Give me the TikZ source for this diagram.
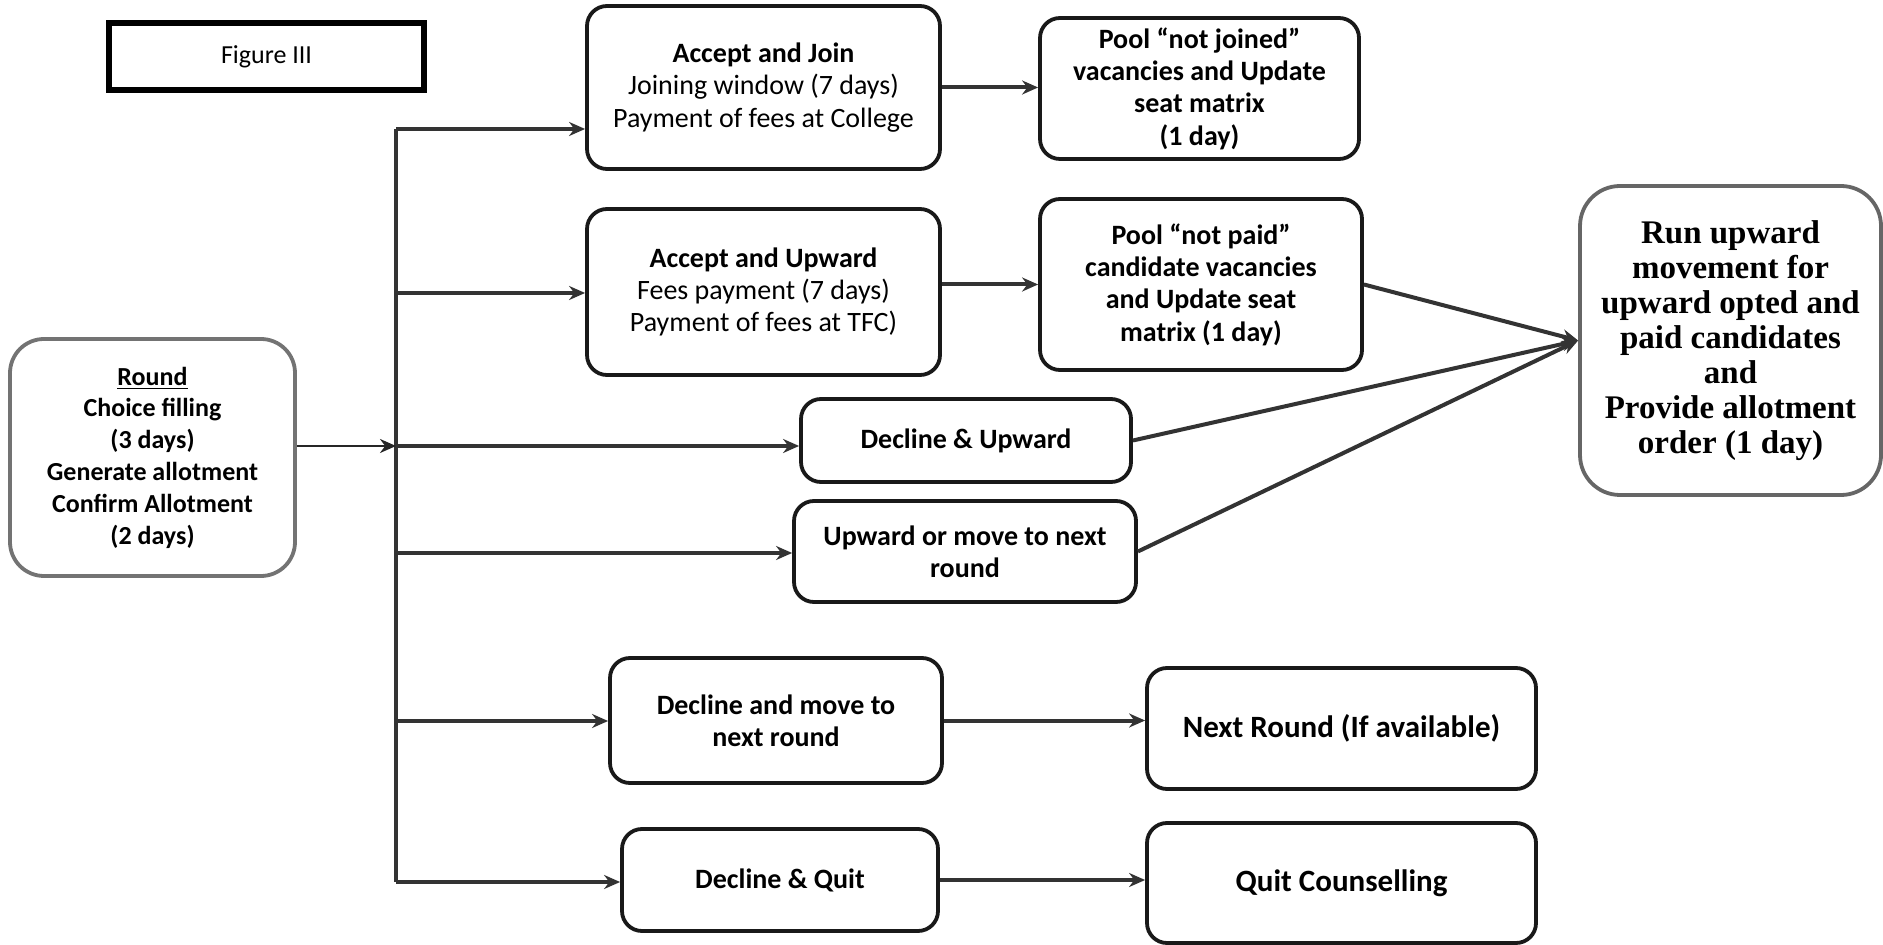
\documentclass[tikz,border=0pt]{standalone}
\usepackage{fontspec}
\setmainfont{Carlito}
\newfontfamily\tms{Liberation Serif}
\usetikzlibrary{arrows.meta}
\tikzset{
  box/.style={draw=black!90, line width=1.9pt, rounded corners=10pt, align=center, inner sep=0pt, font=\fontsize{14}{16.2}\selectfont},
  bbox/.style={box, font=\fontsize{14}{16.2}\selectfont\bfseries},
  conn/.style={line width=2pt, draw=black!80, -{Stealth[length=8pt,width=7pt]}},
  plain/.style={line width=2pt, draw=black!80},
}
\begin{document}
\begin{tikzpicture}[x=0.5pt,y=-0.5pt]
\useasboundingbox (0,0) rectangle (1883,945);
% boxes
\node[draw=black, line width=2.6pt, minimum width=157.5pt, minimum height=33.5pt, inner sep=0pt, font=\fontsize{13}{15}\selectfont] (fig) at (266.5,56.5) {Figure III};
\node[box, minimum width=176.5pt, minimum height=81.5pt] (aj) at (763.5,87.5) {\textbf{Accept and Join}\\Joining window (7 days)\\Payment of fees at College};
\node[bbox, minimum width=159.5pt, minimum height=70.5pt] (pj) at (1199.5,88.5) {Pool “not joined”\\vacancies and Update\\seat matrix\\(1 day)};
\node[box, minimum width=176.5pt, minimum height=83pt] (au) at (763.5,292) {\textbf{Accept and Upward}\\Fees payment (7 days)\\Payment of fees at TFC)};
\node[bbox, minimum width=161pt, minimum height=85.5pt] (pp) at (1201,284.5) {Pool “not paid”\\candidate vacancies\\and Update seat\\matrix (1 day)};
\node[box, draw=black!60, rounded corners=20pt, minimum width=150.5pt, minimum height=154.5pt, font=\fontsize{16.5}{17.5}\selectfont\tms\bfseries] (run) at (1730.5,340.5) {Run upward\\movement for\\upward opted and\\paid candidates\\and\\Provide allotment\\order (1 day)};
\node[bbox, draw=black!55, rounded corners=17pt, minimum width=142.5pt, minimum height=118.5pt, font=\fontsize{13}{15.9}\selectfont\bfseries] (rnd) at (152.5,457.5) {\underline{Round}\\Choice filling\\(3 days)\\Generate allotment\\Confirm Allotment\\(2 days)};
\node[bbox, minimum width=165pt, minimum height=41.5pt] (du) at (966,440.5) {Decline \& Upward};
\node[bbox, minimum width=171pt, minimum height=50.5pt] (um) at (965,551.5) {Upward or move to next\\round};
\node[bbox, minimum width=166pt, minimum height=62.5pt] (dm) at (776,720.5) {Decline and move to\\next round};
\node[bbox, minimum width=194.5pt, minimum height=60.5pt, font=\fontsize{15.5}{18}\selectfont\bfseries] (nr) at (1341.5,728.5) {Next Round (If available)};
\node[bbox, minimum width=158pt, minimum height=51pt] (dq) at (780,880) {Decline \& Quit};
\node[bbox, minimum width=194.5pt, minimum height=60pt, font=\fontsize{15.5}{18}\selectfont\bfseries] (qc) at (1341.5,883) {Quit Counselling};
% trunk
\coordinate (t1) at (396,129);
\coordinate (t2) at (396,293);
\coordinate (t3) at (396,446);
\coordinate (t4) at (396,553);
\coordinate (t5) at (396,721);
\coordinate (t6) at (396,882);
\draw[plain] (t1) -- (t6);
\draw[line width=1.3pt, draw=black!85, -{Stealth[length=8pt,width=7pt]}] (rnd.east |- t3) -- (t3);
\draw[conn] (t1) -- (t1 -| aj.west);
\draw[conn] (t2) -- (t2 -| au.west);
\draw[conn] (t3) -- (t3 -| du.west);
\draw[conn] (t4) -- (t4 -| um.west);
\draw[conn] (t5) -- (t5 -| dm.west);
\draw[conn] (t6) -- (t6 -| dq.west);
% second column
\draw[conn] (aj.east) -- (aj.east -| pj.west);
\draw[conn] (au.east |- pp.west) -- (pp.west);
\draw[conn] (pp.east) -- (run.west);
\draw[conn] (du.east) -- (run.west);
\draw[conn] (um.east) -- (run.west);
\draw[conn] (dm.east) -- (dm.east -| nr.west);
\draw[conn] (dq.east) -- (dq.east -| qc.west);
\end{tikzpicture}
\end{document}
